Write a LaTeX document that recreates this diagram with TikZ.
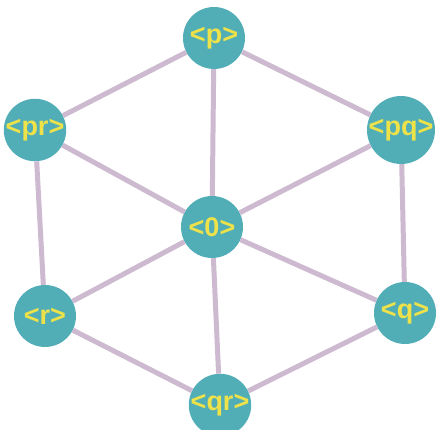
\documentclass[tikz,border=0pt]{standalone}
\usepackage{fontspec}
\setmainfont{Liberation Sans}
\definecolor{nodeteal}{HTML}{52AEB6}
\definecolor{edgelav}{HTML}{CDB9D0}
\definecolor{labelyel}{HTML}{EDE24A}
\begin{document}
\begin{tikzpicture}[x=1pt,y=-1pt,
  vert/.style={circle,fill=nodeteal,minimum size=62pt,inner sep=0pt,text=labelyel,font=\bfseries\fontsize{27}{28}\selectfont},
  edge/.style={draw=edgelav,line width=5pt}]
\useasboundingbox (0,0) rectangle (437,430);
\node[vert] (p) at (214,38) {<p>};
\node[vert] (pr) at (35,130) {<pr>};
\node[vert] (pq) at (401,130) {<pq>};
\node[vert] (o) at (212,227) {<0>};
\node[vert] (r) at (45,316) {<r>};
\node[vert] (q) at (405,313) {<q>};
\node[vert] (qr) at (220,405) {<qr>};
\path[edge] (p) -- (pr) (p) -- (pq) (p) -- (o)
  (pr) -- (o) (pq) -- (o) (r) -- (o) (q) -- (o) (qr) -- (o)
  (pr) -- (r) (pq) -- (q) (r) -- (qr) (q) -- (qr);
\end{tikzpicture}
\end{document}
